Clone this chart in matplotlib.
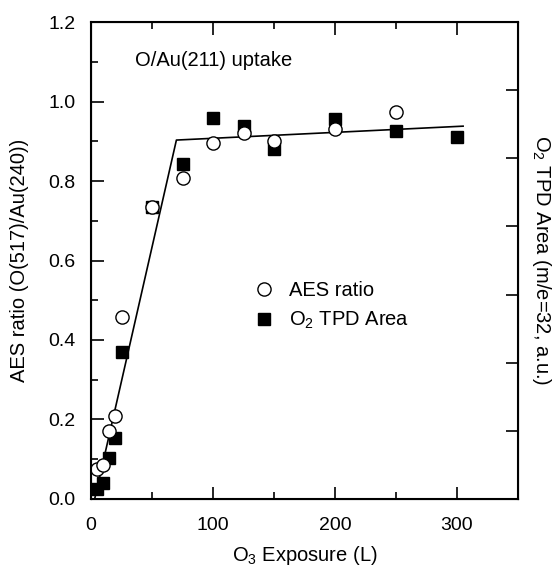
import matplotlib
matplotlib.use("Agg")
import matplotlib.pyplot as plt
from matplotlib.ticker import MultipleLocator, NullFormatter

plt.rcParams['font.family'] = ['Liberation Sans', 'DejaVu Sans']
plt.rcParams['mathtext.fontset'] = 'custom'
plt.rcParams['mathtext.rm'] = 'Liberation Sans'
plt.rcParams['mathtext.it'] = 'Liberation Sans'

# AES ratio (open circles)
aes_x = [5, 10, 15, 20, 25, 50, 75, 100, 125, 150, 200, 250]
aes_y = [0.075, 0.085, 0.17, 0.21, 0.458, 0.735, 0.808, 0.896, 0.921, 0.90, 0.931, 0.973]

# O2 TPD area (filled squares)
tpd_x = [5, 10, 15, 20, 25, 50, 75, 100, 125, 150, 200, 250, 300]
tpd_y = [0.024, 0.039, 0.102, 0.153, 0.371, 0.735, 0.842, 0.958, 0.939, 0.88, 0.956, 0.927, 0.91]

# two-segment guide line
fit_x = [3, 70, 305]
fit_y = [0.0, 0.903, 0.938]

fs = 14.5

fig = plt.figure(figsize=(5.6, 5.66), dpi=100)
ax = fig.add_axes([0.1625, 0.1184, 0.7625, 0.8427])

ax.plot(fit_x, fit_y, color='black', lw=1.2, zorder=1)
ax.plot(tpd_x, tpd_y, 's', color='black', ms=8.5, label='O$_2$ TPD Area', zorder=2)
ax.plot(aes_x, aes_y, 'o', mfc='white', mec='black', mew=1.0, ms=9.5, label='AES ratio', zorder=3)

ax.set_xlim(0, 350)
ax.set_ylim(0, 1.2)
ax.xaxis.set_major_locator(MultipleLocator(100))
ax.xaxis.set_minor_locator(MultipleLocator(50))
ax.yaxis.set_major_locator(MultipleLocator(0.2))
ax.yaxis.set_minor_locator(MultipleLocator(0.1))
ax.yaxis.set_major_formatter(matplotlib.ticker.FormatStrFormatter('%.1f'))
ax.tick_params(which='both', direction='in', top=True, right=False, labelsize=14, width=1.2)
ax.tick_params(which='major', length=9)
ax.tick_params(which='minor', length=5)
ax.tick_params(axis='x', which='major', pad=13)
ax.tick_params(axis='y', which='major', pad=11)
for s in ax.spines.values():
    s.set_linewidth(1.5)

ax.set_xlabel('O$_3$ Exposure (L)', fontsize=fs, labelpad=7)
ax.set_ylabel('AES ratio (O(517)/Au(240))', fontsize=fs, labelpad=14)

ax.text(36, 1.104, 'O/Au(211) uptake', fontsize=fs, va='center')

handles, labels = ax.get_legend_handles_labels()
ax.legend(handles[::-1], labels[::-1], loc='center left', bbox_to_anchor=(0.34, 0.405),
          frameon=False, fontsize=fs, handlelength=1.0, handletextpad=0.7, labelspacing=0.5)

ax2 = ax.twinx()
ax2.set_ylim(0, 7)
ax2.yaxis.set_major_locator(MultipleLocator(1))
ax2.yaxis.set_major_formatter(NullFormatter())
ax2.tick_params(direction='in', length=9, width=1.2)
ax2.set_ylabel('O$_2$ TPD Area (m/e=32, a.u.)', fontsize=fs, rotation=270, labelpad=22)

fig.savefig('out.png', dpi=100)
